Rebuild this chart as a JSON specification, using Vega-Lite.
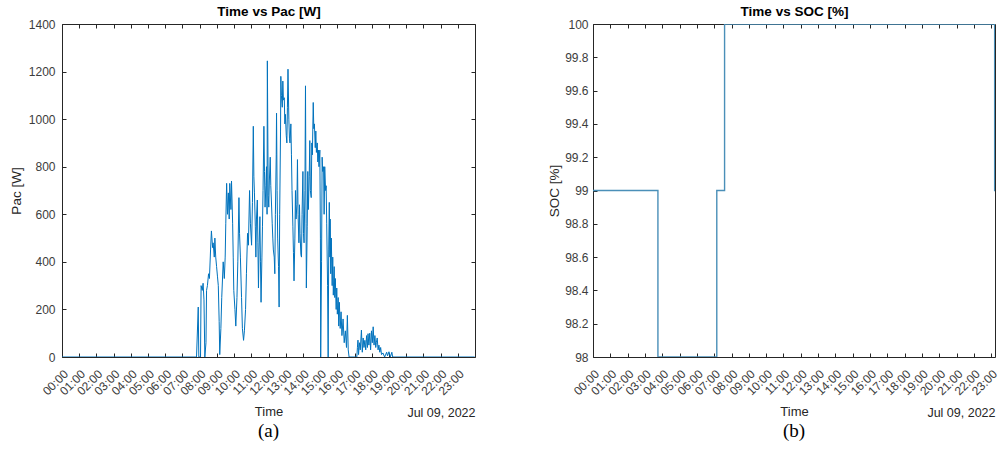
{
 "$schema": "https://vega.github.io/schema/vega-lite/v6.json",
 "background": "white",
 "padding": {"left": 8, "top": 4, "right": 0, "bottom": 0},
 "spacing": 71,
 "config": {
  "view": {"stroke": "#262626"},
  "axis": {"labelFont": "Liberation Sans", "titleFont": "Liberation Sans", "labelFontSize": 12, "labelColor": "#3c3c3c", "titleColor": "#262626", "titleFontWeight": "normal", "domain": false, "grid": false, "tickColor": "#262626"},
  "title": {"font": "Liberation Serif", "fontSize": 19, "fontWeight": "normal", "color": "#000000"}
 },
 "hconcat": [
  {
   "width": 413, "height": 333,
   "title": {"text": "(a)", "orient": "bottom", "frame": "group", "anchor": "middle", "offset": 3},
   "data": {"values": [
    {"h":0,"p":0},{"h":7.817,"p":0},{"h":7.917,"p":210},{"h":7.95,"p":0},{"h":8.05,"p":0},{"h":8.083,"p":300},{"h":8.15,"p":280},{"h":8.2,"p":310},{"h":8.25,"p":240},{"h":8.3,"p":0},{"h":8.367,"p":60},{"h":8.4,"p":280},{"h":8.45,"p":300},{"h":8.517,"p":350},{"h":8.567,"p":330},{"h":8.633,"p":450},{"h":8.683,"p":530},{"h":8.75,"p":460},{"h":8.783,"p":480},{"h":8.85,"p":420},{"h":8.883,"p":500},{"h":8.933,"p":420},{"h":8.983,"p":380},{"h":9.033,"p":340},{"h":9.083,"p":300},{"h":9.133,"p":150},{"h":9.167,"p":10},{"h":9.233,"p":120},{"h":9.283,"p":250},{"h":9.367,"p":400},{"h":9.433,"p":330},{"h":9.483,"p":420},{"h":9.517,"p":560},{"h":9.567,"p":730},{"h":9.617,"p":600},{"h":9.667,"p":690},{"h":9.717,"p":580},{"h":9.75,"p":730},{"h":9.817,"p":620},{"h":9.85,"p":740},{"h":9.917,"p":560},{"h":9.95,"p":420},{"h":9.983,"p":280},{"h":10.05,"p":200},{"h":10.1,"p":130},{"h":10.167,"p":250},{"h":10.217,"p":400},{"h":10.283,"p":670},{"h":10.317,"p":520},{"h":10.367,"p":420},{"h":10.433,"p":250},{"h":10.483,"p":120},{"h":10.55,"p":70},{"h":10.6,"p":110},{"h":10.667,"p":200},{"h":10.717,"p":350},{"h":10.783,"p":520},{"h":10.833,"p":470},{"h":10.9,"p":700},{"h":10.95,"p":560},{"h":11.017,"p":470},{"h":11.067,"p":650},{"h":11.117,"p":970},{"h":11.15,"p":760},{"h":11.183,"p":690},{"h":11.233,"p":550},{"h":11.267,"p":420},{"h":11.3,"p":580},{"h":11.35,"p":660},{"h":11.383,"p":480},{"h":11.417,"p":290},{"h":11.45,"p":450},{"h":11.5,"p":590},{"h":11.533,"p":400},{"h":11.567,"p":230},{"h":11.617,"p":420},{"h":11.65,"p":550},{"h":11.683,"p":700},{"h":11.733,"p":970},{"h":11.767,"p":780},{"h":11.8,"p":630},{"h":11.85,"p":720},{"h":11.883,"p":800},{"h":11.917,"p":600},{"h":11.933,"p":1245},{"h":11.983,"p":680},{"h":12.017,"p":630},{"h":12.05,"p":740},{"h":12.1,"p":840},{"h":12.133,"p":720},{"h":12.167,"p":660},{"h":12.217,"p":560},{"h":12.25,"p":500},{"h":12.283,"p":450},{"h":12.333,"p":420},{"h":12.367,"p":350},{"h":12.4,"p":600},{"h":12.45,"p":850},{"h":12.467,"p":1025},{"h":12.5,"p":700},{"h":12.533,"p":500},{"h":12.583,"p":380},{"h":12.617,"p":210},{"h":12.65,"p":600},{"h":12.7,"p":950},{"h":12.717,"p":1180},{"h":12.75,"p":1100},{"h":12.8,"p":1050},{"h":12.833,"p":1160},{"h":12.867,"p":1080},{"h":12.917,"p":1090},{"h":12.95,"p":980},{"h":12.983,"p":1020},{"h":13.033,"p":930},{"h":13.067,"p":900},{"h":13.1,"p":1050},{"h":13.133,"p":1210},{"h":13.183,"p":1000},{"h":13.217,"p":920},{"h":13.25,"p":900},{"h":13.3,"p":980},{"h":13.333,"p":850},{"h":13.367,"p":700},{"h":13.417,"p":550},{"h":13.45,"p":440},{"h":13.483,"p":320},{"h":13.533,"p":500},{"h":13.567,"p":700},{"h":13.6,"p":580},{"h":13.65,"p":640},{"h":13.683,"p":830},{"h":13.717,"p":600},{"h":13.767,"p":480},{"h":13.8,"p":640},{"h":13.833,"p":520},{"h":13.883,"p":430},{"h":13.917,"p":420},{"h":13.95,"p":600},{"h":14.0,"p":780},{"h":14.033,"p":520},{"h":14.067,"p":480},{"h":14.117,"p":700},{"h":14.15,"p":1140},{"h":14.183,"p":560},{"h":14.2,"p":290},{"h":14.25,"p":550},{"h":14.283,"p":780},{"h":14.317,"p":620},{"h":14.367,"p":760},{"h":14.4,"p":910},{"h":14.433,"p":700},{"h":14.483,"p":670},{"h":14.517,"p":900},{"h":14.55,"p":850},{"h":14.6,"p":1070},{"h":14.633,"p":960},{"h":14.667,"p":980},{"h":14.717,"p":880},{"h":14.75,"p":950},{"h":14.783,"p":860},{"h":14.833,"p":900},{"h":14.867,"p":820},{"h":14.9,"p":870},{"h":14.933,"p":800},{"h":14.983,"p":870},{"h":15.017,"p":500},{"h":15.033,"p":0},{"h":15.083,"p":400},{"h":15.117,"p":840},{"h":15.15,"p":780},{"h":15.2,"p":800},{"h":15.233,"p":600},{"h":15.267,"p":800},{"h":15.317,"p":700},{"h":15.35,"p":720},{"h":15.383,"p":560},{"h":15.433,"p":300},{"h":15.467,"p":0},{"h":15.5,"p":450},{"h":15.533,"p":650},{"h":15.567,"p":420},{"h":15.583,"p":580},{"h":15.617,"p":350},{"h":15.65,"p":500},{"h":15.7,"p":300},{"h":15.733,"p":420},{"h":15.767,"p":260},{"h":15.817,"p":380},{"h":15.85,"p":250},{"h":15.883,"p":330},{"h":15.933,"p":200},{"h":15.967,"p":290},{"h":16.0,"p":180},{"h":16.05,"p":250},{"h":16.083,"p":130},{"h":16.117,"p":230},{"h":16.167,"p":120},{"h":16.217,"p":190},{"h":16.267,"p":90},{"h":16.333,"p":160},{"h":16.4,"p":60},{"h":16.467,"p":110},{"h":16.533,"p":40},{"h":16.583,"p":175},{"h":16.633,"p":30},{"h":16.683,"p":0},{"h":17.133,"p":0},{"h":17.167,"p":40},{"h":17.2,"p":71},{"h":17.233,"p":10},{"h":17.283,"p":60},{"h":17.333,"p":30},{"h":17.4,"p":113},{"h":17.45,"p":20},{"h":17.5,"p":80},{"h":17.55,"p":40},{"h":17.6,"p":70},{"h":17.65,"p":30},{"h":17.7,"p":90},{"h":17.75,"p":40},{"h":17.783,"p":98},{"h":17.833,"p":50},{"h":17.883,"p":100},{"h":17.933,"p":30},{"h":17.983,"p":110},{"h":18.033,"p":60},{"h":18.083,"p":127},{"h":18.133,"p":50},{"h":18.183,"p":90},{"h":18.233,"p":40},{"h":18.267,"p":60},{"h":18.317,"p":80},{"h":18.367,"p":30},{"h":18.417,"p":50},{"h":18.467,"p":20},{"h":18.517,"p":40},{"h":18.567,"p":10},{"h":18.65,"p":17},{"h":18.75,"p":0},{"h":18.867,"p":20},{"h":18.917,"p":5},{"h":19.0,"p":22},{"h":19.083,"p":0},{"h":19.167,"p":20},{"h":19.217,"p":0},{"h":23.983,"p":0}
   ]},
   "resolve": {"axis": {"x": "independent", "y": "independent"}},
   "layer": [
    {
     "mark": {"type": "line", "color": "#0072BD", "strokeWidth": 1, "clip": true},
     "encoding": {
      "x": {"field": "h", "type": "quantitative", "scale": {"domain": [0, 24], "nice": false, "zero": false},
            "axis": {"orient": "bottom", "values": [0,1,2,3,4,5,6,7,8,9,10,11,12,13,14,15,16,17,18,19,20,21,22,23], "labelExpr": "(datum.value < 10 ? '0' : '') + datum.value + ':00'", "labelAngle": -45, "labelAlign": "right", "labelBaseline": "top", "labelOverlap": false, "labelFlush": false, "tickSize": 0, "labelPadding": 11, "title": "Time", "titleFontSize": 13, "titlePadding": 8}},
      "y": {"field": "p", "type": "quantitative", "scale": {"domain": [0, 1400], "nice": false},
            "axis": {"orient": "left", "values": [0, 200, 400, 600, 800, 1000, 1200, 1400], "format": "d", "tickSize": 0, "labelPadding": 7, "title": "Pac [W]", "titleFontSize": 13.5, "titlePadding": 5}}
     }
    },
    {
     "mark": {"type": "line", "opacity": 0},
     "encoding": {
      "x": {"field": "h", "type": "quantitative", "scale": {"domain": [0, 24], "nice": false, "zero": false},
            "axis": {"orient": "top", "offset": -4, "values": [0,1,2,3,4,5,6,7,8,9,10,11,12,13,14,15,16,17,18,19,20,21,22,23], "labels": false, "tickSize": 4, "title": "Time vs Pac [W]", "titleFontWeight": "bold", "titleFontSize": 13.5, "titleColor": "#000000", "titlePadding": 5}},
      "y": {"field": "p", "type": "quantitative", "scale": {"domain": [0, 1400], "nice": false},
            "axis": {"orient": "right", "offset": -4, "values": [0, 200, 400, 600, 800, 1000, 1200, 1400], "labels": false, "tickSize": 4, "title": null}}
     }
    },
    {
     "mark": {"type": "line", "opacity": 0},
     "encoding": {
      "x": {"field": "h", "type": "quantitative", "scale": {"domain": [0, 24], "nice": false, "zero": false},
            "axis": {"orient": "bottom", "offset": -4, "values": [0,1,2,3,4,5,6,7,8,9,10,11,12,13,14,15,16,17,18,19,20,21,22,23], "labels": false, "tickSize": 4, "title": "Jul 09, 2022", "titleAnchor": "end", "titleFontSize": 12.5, "titlePadding": 49}},
      "y": {"field": "p", "type": "quantitative", "scale": {"domain": [0, 1400], "nice": false},
            "axis": {"orient": "left", "offset": -4, "values": [0, 200, 400, 600, 800, 1000, 1200, 1400], "labels": false, "tickSize": 4, "title": null}}
     }
    }
   ]
  },
  {
   "width": 402, "height": 333,
   "title": {"text": "(b)", "orient": "bottom", "frame": "group", "anchor": "middle", "offset": 3},
   "data": {"values": [
    {"h":0,"s":99},{"h":3.75,"s":98},{"h":7.15,"s":99},{"h":7.6,"s":100},{"h":23.2,"s":99},{"h":24,"s":99}
   ]},
   "resolve": {"axis": {"x": "independent", "y": "independent"}},
   "layer": [
    {
     "mark": {"type": "line", "color": "#4a8fb8", "strokeWidth": 1.4, "interpolate": "step-after", "clip": true},
     "encoding": {
      "x": {"field": "h", "type": "quantitative", "scale": {"domain": [0, 23.22], "nice": false, "zero": false},
            "axis": {"orient": "bottom", "values": [0,1,2,3,4,5,6,7,8,9,10,11,12,13,14,15,16,17,18,19,20,21,22,23], "labelExpr": "(datum.value < 10 ? '0' : '') + datum.value + ':00'", "labelAngle": -45, "labelAlign": "right", "labelBaseline": "top", "labelOverlap": false, "labelFlush": false, "tickSize": 0, "labelPadding": 11, "title": "Time", "titleFontSize": 13, "titlePadding": 8}},
      "y": {"field": "s", "type": "quantitative", "scale": {"domain": [98, 100], "nice": false, "zero": false},
            "axis": {"orient": "left", "values": [98, 98.2, 98.4, 98.6, 98.8, 99, 99.2, 99.4, 99.6, 99.8, 100], "format": "~g", "tickSize": 0, "labelPadding": 5, "title": "SOC [%]", "titleFontSize": 13.5, "titlePadding": 3}}
     }
    },
    {
     "mark": {"type": "line", "opacity": 0},
     "encoding": {
      "x": {"field": "h", "type": "quantitative", "scale": {"domain": [0, 23.22], "nice": false, "zero": false},
            "axis": {"orient": "top", "offset": -4, "values": [0,1,2,3,4,5,6,7,8,9,10,11,12,13,14,15,16,17,18,19,20,21,22,23], "labels": false, "tickSize": 4, "title": "Time vs SOC [%]", "titleFontWeight": "bold", "titleFontSize": 13.5, "titleColor": "#000000", "titlePadding": 5}},
      "y": {"field": "s", "type": "quantitative", "scale": {"domain": [98, 100], "nice": false, "zero": false}, "axis": null}
     }
    },
    {
     "mark": {"type": "line", "opacity": 0},
     "encoding": {
      "x": {"field": "h", "type": "quantitative", "scale": {"domain": [0, 23.22], "nice": false, "zero": false},
            "axis": {"orient": "bottom", "offset": -4, "values": [0,1,2,3,4,5,6,7,8,9,10,11,12,13,14,15,16,17,18,19,20,21,22,23], "labels": false, "tickSize": 4, "title": "Jul 09, 2022", "titleAnchor": "end", "titleFontSize": 12.5, "titlePadding": 49}},
      "y": {"field": "s", "type": "quantitative", "scale": {"domain": [98, 100], "nice": false, "zero": false},
            "axis": {"orient": "left", "offset": -4, "values": [98, 98.2, 98.4, 98.6, 98.8, 99, 99.2, 99.4, 99.6, 99.8, 100], "labels": false, "tickSize": 4, "title": null}}
     }
    }
   ]
  }
 ]
}
